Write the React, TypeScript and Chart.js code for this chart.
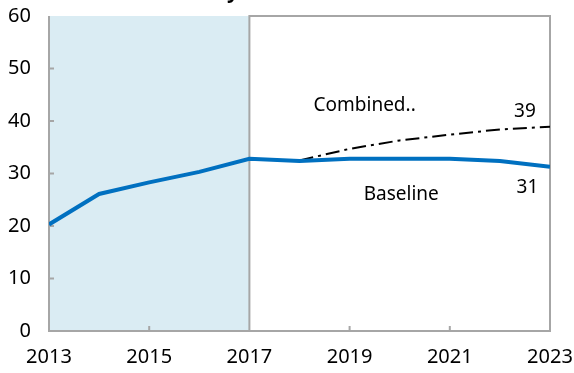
import React, { useEffect, useRef } from "react";
import { Chart, registerables } from "chart.js";

Chart.register(...registerables);

const years = [2013, 2014, 2015, 2016, 2017, 2018, 2019, 2020, 2021, 2022, 2023];
const baseline = [20.3, 26.1, 28.3, 30.3, 32.8, 32.4, 32.8, 32.8, 32.8, 32.4, 31.3];
const combined = [null, null, null, null, null, 32.5, 34.7, 36.3, 37.4, 38.4, 38.9];
const yTicks = [0, 10, 20, 30, 40, 50, 60];
const xTickLabels = [2013, 2015, 2017, 2019, 2021, 2023];
const shadeFrom = 2013;
const shadeTo = 2017;
const annotations = [
  { text: "Combined..", x: 2019.3, y: 42.9 },
  { text: "39", x: 2022.5, y: 41.8 },
  { text: "Baseline", x: 2020.03, y: 26.0 },
  { text: "31", x: 2022.55, y: 27.4 },
];

const FONT = "'Noto Sans', 'Open Sans', sans-serif";
const GREY = "#A6A6A6";

const framePlugin = {
  id: "frame",
  beforeDatasetsDraw(chart: any) {
    const { ctx, chartArea: a, scales } = chart;
    const xs = scales.x;
    const ys = scales.y;
    const x0 = xs.getPixelForValue(shadeFrom);
    const x1 = xs.getPixelForValue(shadeTo);
    ctx.save();
    ctx.fillStyle = "#DAECF3";
    ctx.fillRect(x0, a.top, x1 - x0, a.bottom - a.top);
    ctx.strokeStyle = GREY;
    ctx.lineWidth = 2;
    ctx.beginPath();
    ctx.moveTo(a.left, a.top);
    ctx.lineTo(a.left, a.bottom);
    ctx.lineTo(a.right, a.bottom);
    ctx.lineTo(a.right, a.top);
    ctx.lineTo(x1, a.top);
    ctx.lineTo(x1, a.bottom);
    ctx.stroke();
    ctx.beginPath();
    for (const v of yTicks) {
      if (v === yTicks[0] || v === yTicks[yTicks.length - 1]) continue;
      const y = ys.getPixelForValue(v);
      ctx.moveTo(a.left, y);
      ctx.lineTo(a.left + 5, y);
    }
    for (const v of xTickLabels) {
      if (v === xTickLabels[0] || v === xTickLabels[xTickLabels.length - 1] || v === shadeTo) continue;
      const x = xs.getPixelForValue(v);
      ctx.moveTo(x, a.bottom);
      ctx.lineTo(x, a.bottom - 5);
    }
    ctx.stroke();
    ctx.restore();
  },
  afterDraw(chart: any) {
    const { ctx, scales, chartArea: a, width } = chart;
    const xs = scales.x;
    const ys = scales.y;
    ctx.save();
    ctx.fillStyle = "#000";
    // y tick labels
    ctx.font = `20px ${FONT}`;
    ctx.textAlign = "right";
    ctx.textBaseline = "middle";
    for (const v of yTicks) {
      ctx.fillText(String(v), 31, ys.getPixelForValue(v));
    }
    // x tick labels, kept inside the canvas
    ctx.textAlign = "left";
    for (const v of xTickLabels) {
      const s = String(v);
      const w = ctx.measureText(s).width;
      let x = xs.getPixelForValue(v) - w / 2;
      if (x < 2) x = 2;
      if (x + w > width - 1) x = width - 1 - w;
      ctx.fillText(s, x, a.bottom + 26);
    }
    // annotations
    ctx.font = `19px ${FONT}`;
    ctx.textAlign = "center";
    for (const an of annotations) {
      ctx.fillText(an.text, xs.getPixelForValue(an.x), ys.getPixelForValue(an.y));
    }
    // cut-off title descender
    ctx.font = `bold 20px ${FONT}`;
    ctx.textAlign = "left";
    ctx.textBaseline = "alphabetic";
    ctx.fillText("y", 227, -2);
    ctx.restore();
  },
};

export default function App() {
  const ref = useRef<HTMLCanvasElement>(null);
  useEffect(() => {
    document.body.style.margin = "0";
    const canvas = ref.current!;
    const chart = new Chart(canvas, {
      type: "line",
      data: {
        labels: years,
        datasets: [
          {
            label: "Baseline",
            data: years.map((y, i) => ({ x: y, y: baseline[i] })),
            borderColor: "#0070C0",
            borderWidth: 4,
            pointRadius: 0,
            tension: 0,
            fill: false,
          },
          {
            label: "Combined",
            data: years.map((y, i) => ({ x: y, y: combined[i] as any })),
            borderColor: "#000000",
            borderWidth: 2,
            borderDash: [14, 5, 3, 5],
            pointRadius: 0,
            tension: 0,
            fill: false,
            spanGaps: false,
          },
        ],
      },
      options: {
        responsive: false,
        animation: false,
        devicePixelRatio: 1,
        layout: { padding: { left: 49, right: 24, top: 16, bottom: 42 } },
        plugins: { legend: { display: false }, tooltip: { enabled: false }, title: { display: false } },
        scales: {
          x: { type: "linear", display: false, min: 2013, max: 2023 },
          y: { display: false, min: 0, max: 60 },
        },
      },
      plugins: [framePlugin],
    });
    return () => chart.destroy();
  }, []);
  return (
    <div style={{ width: 574, height: 373 }}>
      <canvas ref={ref} width={574} height={373} style={{ display: "block", width: 574, height: 373 }} />
    </div>
  );
}
